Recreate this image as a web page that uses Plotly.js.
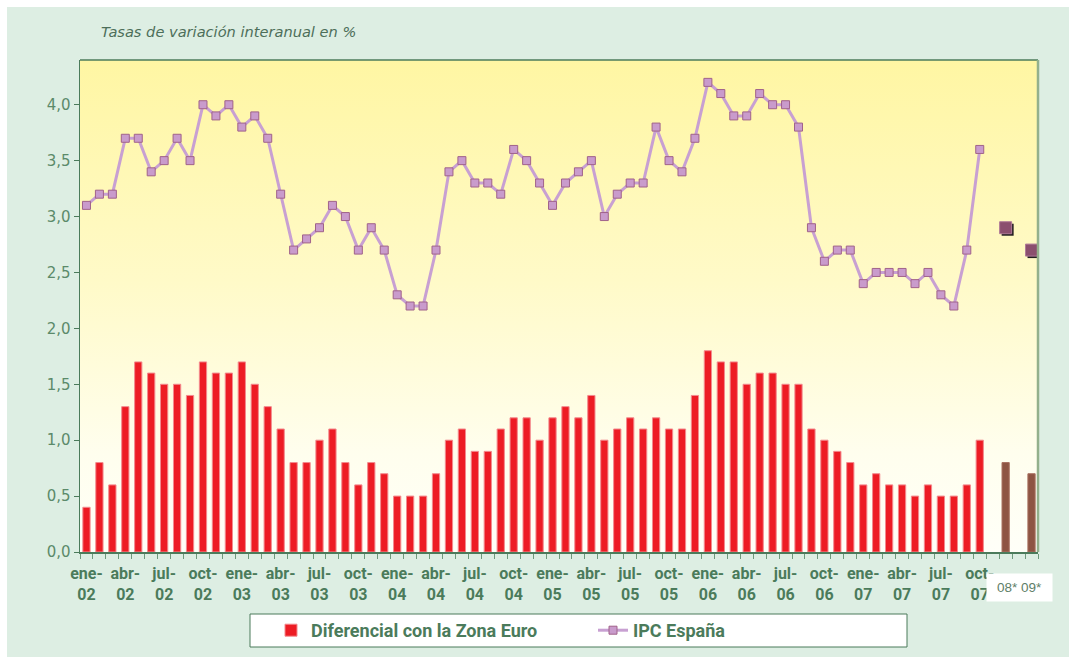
<!DOCTYPE html>
<html><head><meta charset="utf-8">
<script src="https://cdn.plot.ly/plotly-3.0.1.min.js"></script>
<style>
html,body{margin:0;padding:0;background:#fff;}
#wrap{position:relative;width:1069px;height:657px;overflow:hidden;}
#panel{position:absolute;left:7px;top:7px;right:0;bottom:0;background:#DDEEE3;}
#grad{position:absolute;left:80px;top:60px;width:958px;height:492px;background:linear-gradient(to bottom,#FFF6A3 0%,#FFFAC8 45%,#FFFEEE 80%,#FFFFF8 100%);}
#chart{position:absolute;left:0;top:0;width:1069px;height:657px;}
</style></head><body>
<div id="wrap"><div id="panel"></div><div id="grad"></div><div id="chart"></div></div>
<script>
// ---- data ----
const monthNames = ['ene','feb','mar','abr','may','jun','jul','ago','sep','oct','nov','dic'];
const years = ['02','03','04','05','06','07'];
const months = [];
for (const y of years) for (const m of monthNames) { if (months.length < 70) months.push(m + '-' + y); }

const forecastCats = ['08*', '09*'];
const gapCats = ['g1', 'g2'];

const ipcEspana = [
  3.1,3.2,3.2,3.7,3.7,3.4,3.5,3.7,3.5,4.0,3.9,4.0,
  3.8,3.9,3.7,3.2,2.7,2.8,2.9,3.1,3.0,2.7,2.9,2.7,
  2.3,2.2,2.2,2.7,3.4,3.5,3.3,3.3,3.2,3.6,3.5,3.3,
  3.1,3.3,3.4,3.5,3.0,3.2,3.3,3.3,3.8,3.5,3.4,3.7,
  4.2,4.1,3.9,3.9,4.1,4.0,4.0,3.8,2.9,2.6,2.7,2.7,
  2.4,2.5,2.5,2.5,2.4,2.5,2.3,2.2,2.7,3.6
];
const diferencial = [
  0.4,0.8,0.6,1.3,1.7,1.6,1.5,1.5,1.4,1.7,1.6,1.6,
  1.7,1.5,1.3,1.1,0.8,0.8,1.0,1.1,0.8,0.6,0.8,0.7,
  0.5,0.5,0.5,0.7,1.0,1.1,0.9,0.9,1.1,1.2,1.2,1.0,
  1.2,1.3,1.2,1.4,1.0,1.1,1.2,1.1,1.2,1.1,1.1,1.4,
  1.8,1.7,1.7,1.5,1.6,1.6,1.5,1.5,1.1,1.0,0.9,0.8,
  0.6,0.7,0.6,0.6,0.5,0.6,0.5,0.5,0.6,1.0
];
const ipcForecast = [2.9, 2.7];
const difForecast = [0.8, 0.7];

const allCats = [...months, gapCats[0], forecastCats[0], gapCats[1], forecastCats[1]];
const tickText = allCats.map((c, i) => (i < months.length && i % 3 === 0) ? c.replace('-', '-<br>') : '');

// ---- geometry ----
const W = 1069, H = 657;
const M = {l: 80, r: 31, t: 60, b: 105};
const pw = W - M.l - M.r, ph = H - M.t - M.b;
const xr = [-0.5, allCats.length - 0.5];
const yr = [0, 4.4];
const pxX = pw / (xr[1] - xr[0]);
const pxY = ph / (yr[1] - yr[0]);
const sh = 2; // shadow offset px

const green = '#4B7B5B';
const narrow = 'Liberation Sans Narrow, Arial Narrow, Roboto, sans-serif';

const traces = [
  {type:'bar', x: months, y: diferencial, name:'Diferencial con la Zona Euro',
   marker:{color:'#ED1C24', line:{color:'#F38A8E', width:1}}},
  {type:'bar', x: forecastCats, y: difForecast, showlegend:false,
   marker:{color:'#8E5443', line:{color:'#A87060', width:1}}},
  {type:'scatter', mode:'lines+markers', x: months, y: ipcEspana, name:'IPC España',
   line:{color:'#C8A0D2', width:3},
   marker:{symbol:'square', size:8, color:'#C99BCC', line:{color:'#A0628A', width:1}}},
  {type:'scatter', mode:'markers', x: forecastCats, y: ipcForecast, showlegend:false,
   xaxis:'x2', yaxis:'y2',
   marker:{symbol:'square', size:12, color:'#231F20'}},
  {type:'scatter', mode:'markers', x: forecastCats, y: ipcForecast, showlegend:false,
   xaxis:'x3', yaxis:'y3',
   marker:{symbol:'square', size:12, color:'#8B4F6E', line:{color:'#B07A98', width:1}}}
];

const catAx = {type:'category', categoryorder:'array', categoryarray: allCats};

const layout = {
  width: W, height: H,
  margin: {l: M.l, r: M.r, t: M.t, b: M.b, pad: 0, autoexpand: false},
  paper_bgcolor: 'rgba(0,0,0,0)', plot_bgcolor: 'rgba(0,0,0,0)',
  separators: ',.',
  barmode: 'overlay', bargap: 0.44,
  showlegend: true,
  title: {text:'Tasas de variación interanual en %', xref:'container', yref:'container',
          x: 101/W, xanchor:'left', y: 1 - 32/H, yanchor:'middle',
          font:{family:'DejaVu Sans, sans-serif', size:14.6, style:'italic', color:'#4D6E5A'}},
  xaxis: Object.assign({}, catAx, {
    range: xr, tickmode:'array', tickvals: allCats, ticktext: tickText, automargin:false,
    tickson:'boundaries', ticks:'outside', ticklen:5, tickwidth:1, tickcolor:'#6E9A7C',
    showline:true, linecolor: green, linewidth:1.5, showgrid:false, zeroline:false,
    ticklabelstandoff: 6,
    tickangle:0, tickfont:{family: narrow, size:16, color: green, weight:'bold'}, fixedrange:true
  }),
  yaxis: {
    range: yr, dtick:0.5, tick0:0, tickformat:'.1f', ticks:'outside', ticklen:5, automargin:false,
    tickcolor: green, showline:true, linecolor: green, linewidth:1.5, showgrid:false,
    zeroline:false, tickfont:{family:'DejaVu Sans, sans-serif', size:15, color:'#5B8A6A'}, fixedrange:true
  },
  xaxis2: Object.assign({}, catAx, {domain:[sh/pw, 1], range:[xr[0], xr[1] - sh/pxX], visible:false, anchor:'y2'}),
  yaxis2: {domain:[0, 1 - sh/ph], range:[yr[0] + sh/pxY, yr[1]], visible:false, anchor:'x2'},
  xaxis3: Object.assign({}, catAx, {domain:[0, 1], range: xr, visible:false, anchor:'y3'}),
  yaxis3: {domain:[0, 1], range: yr, visible:false, anchor:'x3'},
  legend: {orientation:'h', x:(271 - M.l)/pw, xanchor:'left', y:(M.t + ph - 630.5)/ph, yanchor:'middle',
           bgcolor:'rgba(0,0,0,0)', borderwidth:0, entrywidth:277, entrywidthmode:'pixels',
           font:{family: narrow, size:18, color: green, weight:'bold'}},
  shapes: [
    {type:'line', xref:'paper', yref:'paper', x0:0, x1:1, y0:1, y1:1, line:{color: green, width:1.5}},
    {type:'line', xref:'paper', yref:'paper', x0:1, x1:1, y0:0, y1:1, line:{color:'#93B08C', width:2.5}},
    {type:'rect', xref:'paper', yref:'paper', layer:'below',
     x0:(250 - M.l)/pw, x1:(907 - M.l)/pw, y0:(M.t + ph - 647)/ph, y1:(M.t + ph - 614)/ph,
     fillcolor:'#FFFFFF', line:{color: green, width:1}}
  ],
  annotations: [
    {xref:'paper', yref:'paper', x:(1019.5 - M.l)/pw, y:(M.t + ph - 587.3)/ph, xanchor:'center', yanchor:'middle',
     text:'08* 09*', showarrow:false, bgcolor:'#FFFFFF', width:61, height:23, borderpad:2,
     font:{family:'Arial, Liberation Sans, sans-serif', size:13.5, color:'#5E7E68'}}
  ]
};

Plotly.newPlot('chart', traces, layout, {displayModeBar:false, staticPlot:true});
</script>
</body></html>
